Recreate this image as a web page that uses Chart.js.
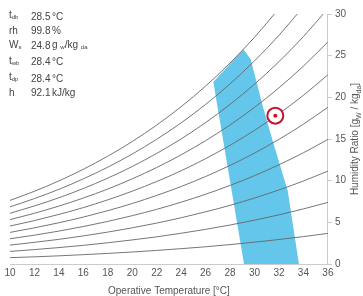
<!DOCTYPE html>
<html>
<head>
<meta charset="utf-8">
<script src="https://cdn.jsdelivr.net/npm/chart.js@4.4.1/dist/chart.umd.min.js"></script>
<style>
  html, body { margin: 0; padding: 0; background: #fff; }
  #wrap { position: relative; width: 363px; height: 296px; }
  #info { position: absolute; left: 9px; top: 8px; font-family: Arial, "Liberation Sans", sans-serif; font-size: 10px; color: #444; line-height: 13.3px; }
  #info table { border-collapse: collapse; }
  #info td { padding: 0; white-space: nowrap; }
  #info td.k { width: 22px; }
  #info td.v { width: 21px; }
  #info sub { font-size: 6px; vertical-align: -1px; }
</style>
</head>
<body>
<div id="wrap">
  <canvas id="chart"></canvas>
  <div id="info">
    <table>
      <tr><td class="k">t<sub>db</sub></td><td class="v">28.5</td><td>°C</td></tr>
      <tr><td class="k">rh</td><td class="v">99.8</td><td>%</td></tr>
      <tr><td class="k">W<sub>s</sub></td><td class="v">24.8</td><td>g <sub>w</sub>/kg <sub>da</sub></td></tr>
      <tr><td class="k">t<sub>wb</sub></td><td class="v">28.4</td><td>°C</td></tr>
      <tr><td class="k">t<sub>dp</sub></td><td class="v">28.4</td><td>°C</td></tr>
      <tr><td class="k">h</td><td class="v">92.1</td><td>kJ/kg</td></tr>
    </table>
  </div>
</div>
<script>
// temperaturas (°C) y humedad absoluta (g/kg) leída para cada curva de humedad relativa
const temps = [10, 12, 14, 16, 18, 20, 22, 24, 26, 28, 30, 32, 34, 36];
const w10  = [0.76, 0.86, 0.98, 1.12, 1.27, 1.44, 1.63, 1.84, 2.07, 2.33, 2.62, 2.94, 3.29, 3.67];
const w20  = [1.51, 1.73, 1.97, 2.24, 2.55, 2.89, 3.26, 3.69, 4.16, 4.68, 5.26, 5.90, 6.61, 7.39];
const w30  = [2.27, 2.60, 2.96, 3.37, 3.83, 4.34, 4.91, 5.55, 6.26, 7.04, 7.92, 8.89, 9.96, 11.15];
const w40  = [3.03, 3.46, 3.95, 4.50, 5.11, 5.80, 6.56, 7.42, 8.37, 9.43, 10.60, 11.91, 13.35, 14.95];
const w50  = [3.79, 4.34, 4.95, 5.63, 6.40, 7.26, 8.23, 9.30, 10.50, 11.83, 13.31, 14.96, 16.78, 18.81];
const w60  = [4.56, 5.21, 5.95, 6.77, 7.70, 8.74, 9.90, 11.19, 12.64, 14.25, 16.04, 18.04, 20.25, 22.70];
const w70  = [5.32, 6.09, 6.95, 7.92, 9.00, 10.22, 11.58, 13.10, 14.80, 16.69, 18.80, 21.15, 23.75, 26.65];
const w80  = [6.09, 6.97, 7.95, 9.06, 10.31, 11.70, 13.27, 15.01, 16.97, 19.15, 21.58, 24.28, 27.29, 30.64];
const w90  = [6.86, 7.85, 8.96, 10.22, 11.62, 13.20, 14.97, 16.94, 19.15, 21.62, 24.38, 27.45, 30.88];
const w100 = [7.63, 8.73, 9.97, 11.37, 12.94, 14.70, 16.67, 18.88, 21.35, 24.12, 27.21, 30.65];
const rhCurves = [w10, w20, w30, w40, w50, w60, w70, w80, w90, w100];

// zona de confort (contorno)
const zoneT = [29.14, 26.63, 29.09, 29.69, 30.67, 31.49, 32.72, 33.63];
const zoneW = [0, 21.84, 25.76, 24.56, 18.96, 14.76, 8.76, 0];

// punto actual
const pointT = [31.7];
const pointW = [17.8];

const xTicks = { min: 10, max: 36, step: 2 };
const yTicks = { min: 0, max: 30, step: 5 };

const toXY = (xs, ys) => ys.map((y, i) => ({ x: xs[i], y: y }));

const datasets = [];
datasets.push({
    data: toXY(zoneT, zoneW),
    showLine: true,
    fill: 'shape',
    backgroundColor: 'rgb(100,198,235)',
    borderColor: 'rgb(100,198,235)',
    borderWidth: 0,
    pointRadius: 0,
    tension: 0,
    order: 10
});
rhCurves.forEach(function(c) {
    datasets.push({
        data: toXY(temps, c),
        showLine: true,
        fill: false,
        borderColor: '#666',
        borderWidth: 0.9,
        pointRadius: 0,
        cubicInterpolationMode: 'monotone',
        order: 5
    });
});
datasets.push({
    data: toXY(pointT, pointW),
    pointRadius: 8,
    pointBorderWidth: 2,
    pointBorderColor: '#c4122f',
    pointBackgroundColor: '#fff',
    order: 1
});
datasets.push({
    data: toXY(pointT, pointW),
    pointRadius: 2,
    pointBorderWidth: 0,
    pointBackgroundColor: '#d0101e',
    order: 0
});

// título del eje Y con subíndices
const yTitle = {
    id: 'yTitle',
    afterDraw(chart) {
        const ctx = chart.ctx;
        const a = chart.chartArea;
        const parts = [['Humidity Ratio [g', 0], ['W', 1], [' / kg', 0], ['da', 1], [']', 0]];
        const big = '10px Arial', small = '7px Arial';
        let total = 0;
        parts.forEach(p => { ctx.font = p[1] ? small : big; total += ctx.measureText(p[0]).width; });
        ctx.save();
        ctx.translate(355, (a.top + a.bottom) / 2);
        ctx.rotate(-Math.PI / 2);
        ctx.fillStyle = '#555';
        ctx.textBaseline = 'middle';
        let x = -total / 2;
        parts.forEach(p => {
            ctx.font = p[1] ? small : big;
            ctx.fillText(p[0], x, p[1] ? 4 : 0);
            x += ctx.measureText(p[0]).width;
        });
        ctx.restore();
    }
};

const chart = new Chart(document.getElementById('chart'), {
    type: 'scatter',
    data: { datasets: datasets },
    options: {
        responsive: true,
        maintainAspectRatio: false,
        animation: false,
        layout: { padding: { left: 0, right: 14, top: 14, bottom: -1 } },
        plugins: { legend: { display: false }, tooltip: { enabled: false } },
        scales: {
            x: {
                type: 'linear',
                min: xTicks.min, max: xTicks.max,
                grid: { display: false, drawTicks: false },
                border: { display: true, color: '#ccc' },
                ticks: { stepSize: xTicks.step, color: '#555', font: { family: 'Arial', size: 10 }, padding: 3 },
                title: { display: true, text: 'Operative Temperature [°C]', color: '#555', font: { family: 'Arial', size: 10 }, padding: { top: 3, bottom: 0 } }
            },
            y: {
                position: 'right',
                min: yTicks.min, max: yTicks.max,
                grid: { drawOnChartArea: false, drawTicks: true, tickLength: 4, color: '#ccc' },
                border: { display: true, color: '#ccc' },
                ticks: { stepSize: yTicks.step, color: '#555', font: { family: 'Arial', size: 10 }, padding: 3 }
            }
        }
    },
    plugins: [yTitle]
});
</script>
</body>
</html>
